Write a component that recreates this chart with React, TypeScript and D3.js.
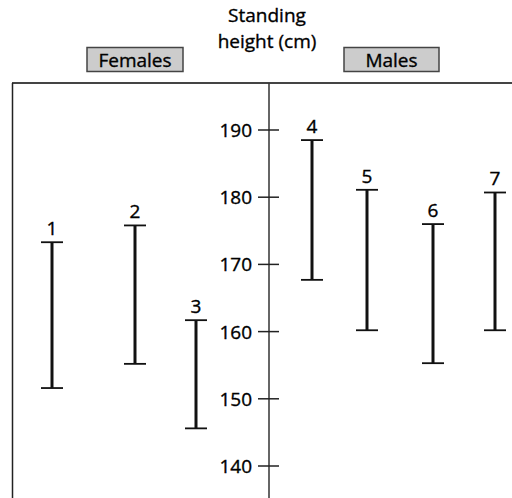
import React from "react";
import * as d3 from "d3";

const labels = ["1", "2", "3", "4", "5", "6", "7"];
const highs = [173.3, 175.8, 161.7, 188.5, 181.1, 176.0, 180.7];
const lows = [151.6, 155.2, 145.6, 167.7, 160.2, 155.3, 160.2];
const positions = [52, 135, 196, 312, 367, 433, 495];
const yTicks = [140, 150, 160, 170, 180, 190];
const titleLines = ["Standing", "height (cm)"];
const legendItems = ["Females", "Males"];

const W = 512;
const H = 498;
const FONT = "'Open Sans', 'Noto Sans', sans-serif";
const FS = 19;
const TXT = { fill: "#000", stroke: "#000", strokeWidth: 0.35 };

export default function App() {
  const y = d3.scaleLinear().domain([140, 190]).range([466, 130]);
  const x = d3.scaleLinear().domain([0, 512]).range([0, 512]);
  const axisX = 269;
  const topY = 83;
  const legendBoxes = [
    { x0: 87, x1: 183 },
    { x0: 344, x1: 439 },
  ];
  return (
    <svg
      width={W}
      height={H}
      style={{ position: "absolute", left: 0, top: 0 }}
      fontFamily={FONT}
    >
      <rect x={0} y={0} width={W} height={H} fill="#fff" />
      {titleLines.map((t, i) => (
        <text key={t} x={267} y={21.5 + i * 26.5} textAnchor="middle" fontSize={FS} {...TXT}>
          {t}
        </text>
      ))}
      {legendItems.map((t, i) => (
        <g key={t}>
          <rect
            x={legendBoxes[i].x0}
            y={47.5}
            width={legendBoxes[i].x1 - legendBoxes[i].x0}
            height={24}
            fill="#cccccc"
            stroke="#444"
            strokeWidth={1.5}
          />
          <text
            x={(legendBoxes[i].x0 + legendBoxes[i].x1) / 2}
            y={66.5}
            textAnchor="middle"
            fontSize={FS}
            {...TXT}
          >
            {t}
          </text>
        </g>
      ))}
      <line x1={12} x2={W} y1={topY} y2={topY} stroke="#444" strokeWidth={2} />
      <line x1={12.5} x2={12.5} y1={topY} y2={H} stroke="#222" strokeWidth={1.5} />
      <line x1={axisX} x2={axisX} y1={topY} y2={H} stroke="#333" strokeWidth={1.5} />
      {yTicks.map((t) => (
        <g key={t}>
          <line x1={axisX - 11} x2={axisX + 10} y1={y(t)} y2={y(t)} stroke="#222" strokeWidth={1.5} />
          <text x={axisX - 17} y={y(t) + 7} textAnchor="end" fontSize={FS} {...TXT}>
            {t}
          </text>
        </g>
      ))}
      {labels.map((l, i) => {
        const cx = x(positions[i]);
        const yt = y(highs[i]);
        const yb = y(lows[i]);
        return (
          <g key={l}>
            <line x1={cx} x2={cx} y1={yt} y2={yb} stroke="#111" strokeWidth={3} />
            <line x1={cx - 11} x2={cx + 11} y1={yt} y2={yt} stroke="#111" strokeWidth={1.8} />
            <line x1={cx - 11} x2={cx + 11} y1={yb} y2={yb} stroke="#111" strokeWidth={1.8} />
            <text x={cx} y={yt - 7} textAnchor="middle" fontSize={FS} {...TXT}>
              {l}
            </text>
          </g>
        );
      })}
    </svg>
  );
}
